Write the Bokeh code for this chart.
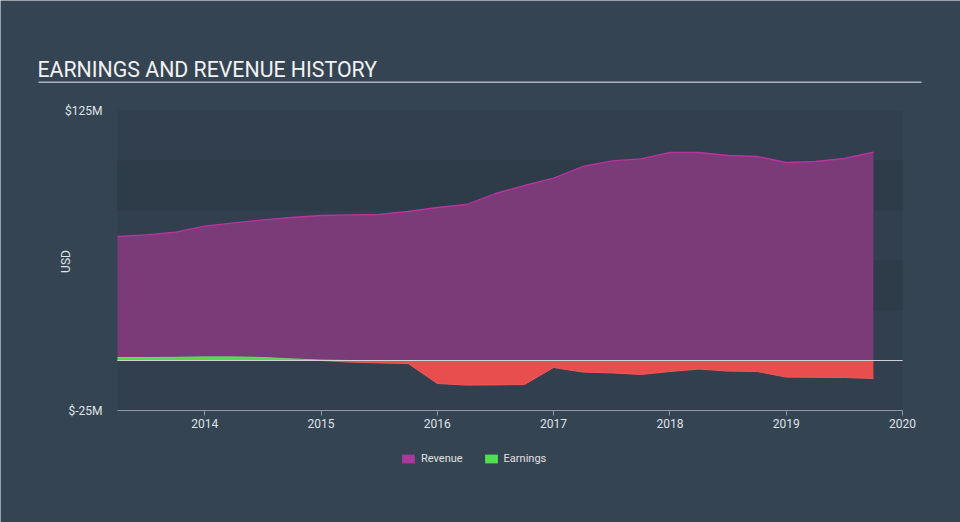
import numpy as np
from bokeh.plotting import figure
from bokeh.models import (ColumnDataSource, FixedTicker, BoxAnnotation, Label,
                          Legend, LegendItem, Range1d)
from bokeh.embed import file_html
from bokeh.resources import INLINE

# ---- data (USD millions, quarterly trailing figures) ----
dates = [2013.25, 2013.5, 2013.75, 2014.0, 2014.25, 2014.5, 2014.75,
         2015.0, 2015.25, 2015.5, 2015.75, 2016.0, 2016.25, 2016.5, 2016.75,
         2017.0, 2017.25, 2017.5, 2017.75, 2018.0, 2018.25, 2018.5, 2018.75,
         2019.0, 2019.25, 2019.5, 2019.75]
revenue = [62.0, 62.8, 64.2, 67.2, 68.8, 70.3, 71.5,
           72.5, 72.8, 73.0, 74.5, 76.5, 78.0, 83.5, 87.5,
           91.2, 97.0, 99.8, 100.8, 104.0, 104.0, 102.5, 102.0,
           99.0, 99.5, 101.0, 104.2]
earnings = [1.5, 1.5, 1.6, 1.8, 1.8, 1.5, 0.8,
            0.2, -0.8, -1.2, -1.5, -11.5, -12.3, -12.2, -12.0,
            -3.5, -5.8, -6.2, -7.0, -5.5, -4.3, -5.3, -5.5,
            -8.3, -8.4, -8.5, -9.0]
year_ticks = [2014, 2015, 2016, 2017, 2018, 2019, 2020]
x_bounds = (2013.25, 2020.0)
y_ticks = [-25, 125]
y_tick_labels = ["$-25M", "$125M"]
bands = [(25, 50), (75, 100)]
series_names = ["Revenue", "Earnings"]

BG = "#354453"
PLOT_BG = "#323f4e"
BAND = "#2e3b49"
FONT = "Roboto"
TXT = "#dfe3e8"

# ---- layout (pixels): plot area 117..902 x 110..410 on a 960x522 canvas ----
W, H = 960, 522
PL, PR, PT, PB = 117, 902, 110, 410
xs = (PR - PL) / (x_bounds[1] - x_bounds[0])
ys = (PB - PT) / (y_ticks[1] - y_ticks[0])
x_range = Range1d(x_bounds[0] - PL / xs, x_bounds[1] + (W - PR) / xs)
y_range = Range1d(y_ticks[0] - (H - PB) / ys, y_ticks[1] + PT / ys)

e = np.array(earnings)
src = ColumnDataSource(dict(x=dates, rev=revenue,
                            epos=np.maximum(e, 0), eneg=np.minimum(e, 0)))

p = figure(width=W, height=H, output_backend="svg", toolbar_location=None,
           x_range=x_range, y_range=y_range, title=None, min_border=0)
p.background_fill_color = BG
p.border_fill_color = None
p.outline_line_color = None
p.xgrid.visible = False
p.ygrid.visible = False

p.add_layout(BoxAnnotation(left=x_bounds[0], right=x_bounds[1], bottom=y_ticks[0],
                           top=y_ticks[1], fill_color=PLOT_BG, fill_alpha=1,
                           line_color=None, level="underlay"))
for b0, b1 in bands:
    p.add_layout(BoxAnnotation(left=x_bounds[0], right=x_bounds[1], bottom=b0, top=b1,
                               fill_color=BAND, fill_alpha=1, line_color=None,
                               level="underlay"))

p.varea(x="x", y1=0, y2="rev", source=src, fill_color="#7b3a78")
p.line(x="x", y="rev", source=src, line_color="#b8349f", line_width=1.3)
p.varea(x="x", y1=0, y2="epos", source=src, fill_color="#50dc50")
p.line(x="x", y="epos", source=src, line_color="#5be85b", line_width=1)
p.varea(x="x", y1=0, y2="eneg", source=src, fill_color="#e84e4e")
p.line(x="x", y="eneg", source=src, line_color="#f05858", line_width=1)

# zero line across the plot area
p.add_layout(BoxAnnotation(left=x_bounds[0], right=x_bounds[1], bottom=0, top=0,
                           fill_alpha=0, line_color="#d0d6dc", line_alpha=0.8,
                           line_width=1))

xa = p.xaxis[0]
xa.fixed_location = y_ticks[0]
xa.bounds = x_bounds
xa.ticker = FixedTicker(ticks=year_ticks)
xa.major_label_overrides = {t: str(t) for t in year_ticks}
xa.axis_line_color = "#8d99a6"
xa.major_tick_line_color = "#8d99a6"
xa.major_tick_in = 0
xa.major_tick_out = 5
xa.minor_tick_line_color = None
xa.major_label_standoff = 3
xa.major_label_text_color = TXT
xa.major_label_text_font = FONT
xa.major_label_text_font_size = "12px"

ya = p.yaxis[0]
ya.fixed_location = x_bounds[0]
ya.ticker = FixedTicker(ticks=y_ticks)
ya.major_label_overrides = dict(zip(y_ticks, y_tick_labels))
ya.axis_line_color = None
ya.major_tick_line_color = None
ya.minor_tick_line_color = None
ya.major_tick_in = 0
ya.major_tick_out = 0
ya.major_label_standoff = 15
ya.major_label_text_color = TXT
ya.major_label_text_font = FONT
ya.major_label_text_font_size = "12px"
ya.axis_label = "USD"
ya.axis_label_standoff = -11
ya.axis_label_text_color = TXT
ya.axis_label_text_font = FONT
ya.axis_label_text_font_size = "12px"
ya.axis_label_text_font_style = "normal"

# title + underline
p.add_layout(Label(x=37, y=H - 69, x_units="screen", y_units="screen",
                   text="EARNINGS AND REVENUE HISTORY", text_font=FONT,
                   text_font_size="21.3px", text_color="#f2f2f2",
                   text_baseline="alphabetic", text_align="left"))
p.add_layout(BoxAnnotation(left=38, right=921, bottom=H - 82.5, top=H - 81,
                           left_units="screen", right_units="screen",
                           bottom_units="screen", top_units="screen",
                           fill_color="#aab3bd", fill_alpha=1, line_color=None))

# legend (hidden single-NaN quads provide the legend swatches)
r_rev = p.quad(left=[np.nan], right=[np.nan], top=[np.nan], bottom=[np.nan],
               fill_color="#a8389b", line_color=None)
r_earn = p.quad(left=[np.nan], right=[np.nan], top=[np.nan], bottom=[np.nan],
                fill_color="#50e050", line_color=None)
legend = Legend(items=[LegendItem(label=series_names[0], renderers=[r_rev]),
                       LegendItem(label=series_names[1], renderers=[r_earn])],
                orientation="horizontal", location=(400, H - 465),
                glyph_width=16, glyph_height=11, label_standoff=5, spacing=20,
                padding=0, margin=0, background_fill_alpha=0, border_line_color=None,
                label_text_color="#e0e0e0", label_text_font=FONT,
                label_text_font_size="11px")
p.add_layout(legend, "center")

open("out.html", "w").write(file_html(p, INLINE))
